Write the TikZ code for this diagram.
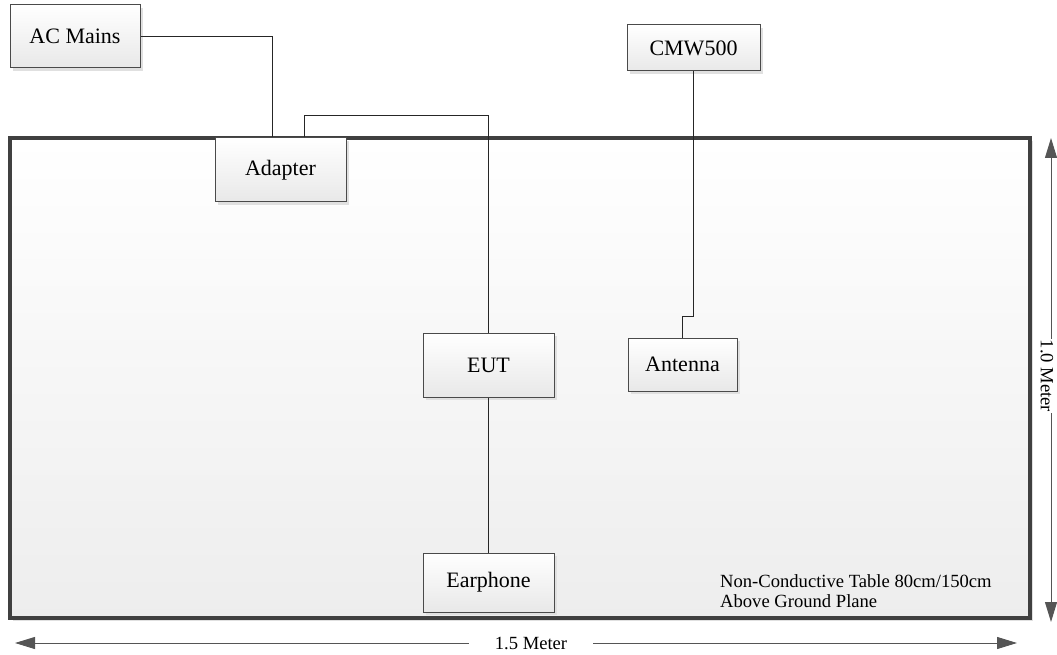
\documentclass[tikz,border=0pt]{standalone}
\usepackage{fontspec}
\setmainfont{Liberation Serif}
\usetikzlibrary{arrows.meta,shadows,calc}
\definecolor{edge}{HTML}{4A4A4A}
\definecolor{tableedge}{HTML}{404040}
\definecolor{dimline}{HTML}{555555}
\tikzset{
  devbox/.style={draw=edge, line width=1pt, top color=white, bottom color=black!9,
    minimum width=#1, inner sep=0pt, font=\fontsize{22}{26}\selectfont,
    drop shadow={shadow xshift=3pt, shadow yshift=-3pt, fill=black!12, opacity=1}},
  wire/.style={draw=black!85, line width=1pt},
  dim/.style={draw=dimline, line width=1pt, {Triangle[length=20pt,width=12pt]}-{Triangle[length=20pt,width=12pt]}},
  small/.style={font=\fontsize{18.6}{20}\selectfont, inner sep=0pt}
}
\begin{document}
\begin{tikzpicture}[x=1pt,y=-1pt]
\useasboundingbox (0,0) rectangle (1057,655);
% table
\node[draw=tableedge, line width=3.5pt, top color=white, bottom color=black!7,
  minimum width=1020pt, minimum height=480pt, inner sep=0pt,
  drop shadow={shadow xshift=3pt, shadow yshift=-3pt, fill=black!12, opacity=1}]
  (table) at (520,378) {};
% boxes
\node[devbox=130pt, minimum height=63pt] (acm) at (75,36.5) {AC Mains};
\node[devbox=133pt, minimum height=46pt] (cmw) at (693.5,48) {CMW500};
\node[devbox=131pt, minimum height=64pt] (adapter) at (280.5,170) {Adapter};
\node[devbox=131pt, minimum height=64pt] (eut) at (488.5,365) {EUT};
\node[devbox=109pt, minimum height=53pt] (ant) at (682.5,364.5) {Antenna};
\node[devbox=131pt, minimum height=59pt] (ear) at (488.5,582.5) {Earphone};
% wires
\draw[wire] (acm.east) -| ([xshift=-8.5pt]adapter.north);
\draw[wire] ([xshift=23.5pt]adapter.north) -- ++(0,-22) -| (eut.north);
\draw[wire] (eut.south) -- (ear.north);
\draw[wire] (cmw.south) -- ++(0,245) -| (ant.north);
% table text
\node[small, anchor=base west] (t1) at (720,587) {Non-Conductive Table 80cm/150cm};
\node[small, anchor=base west] (t2) at (720,607) {Above Ground Plane};
% dimensions
\coordinate (hl) at (15,643);
\coordinate (hr) at (1017,643);
\coordinate (vt) at (1051,138);
\coordinate (vb) at (1051,622);
\draw[dim] (hl) -- (hr);
\draw[dim] (vt) -- (vb);
\node[small, fill=white, inner xsep=26pt, inner ysep=3pt] (w15) at (531,643) {1.5 Meter};
\node[small, fill=white, rotate=-90, inner xsep=1pt, inner ysep=2pt] (w10) at (1047,376) {1.0 Meter};
\end{tikzpicture}
\end{document}
